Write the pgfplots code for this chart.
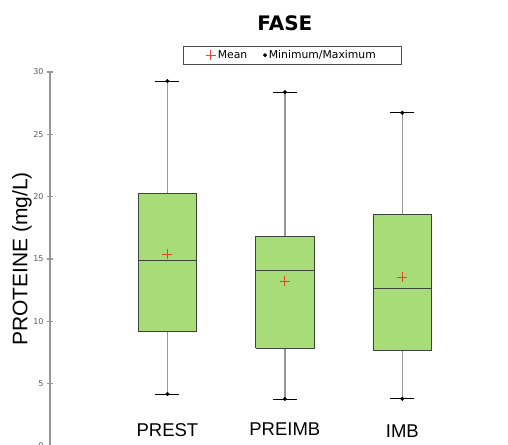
\documentclass[border=0pt]{standalone}
\usepackage{pgfplots}
\pgfplotsset{compat=1.18}
\usepackage{fontspec}
\setmainfont{DejaVu Sans}
\newfontfamily\arialfont{Liberation Sans}

\definecolor{boxgreen}{RGB}{168,220,120}
\definecolor{boxedge}{RGB}{60,70,55}
\definecolor{whiskergray}{RGB}{150,150,150}
\definecolor{axisgray}{RGB}{150,150,150}
\definecolor{meanred}{RGB}{235,65,45}
\definecolor{ticktext}{RGB}{90,90,90}

% styles for the parts of each box plot
\pgfplotsset{
  boxstyle/.style={draw=boxedge, fill=boxgreen, line width=0.9pt, forget plot},
  whiskerstyle/.style={draw=whiskergray, line width=1.4pt, forget plot},
  medianstyle/.style={draw=boxedge, line width=1pt, forget plot},
}

\begin{document}
\begin{tikzpicture}
\useasboundingbox (0pt,0pt) rectangle (508pt,-444pt);
\begin{axis}[
  at={(50pt,-446pt)}, anchor=south west,
  scale only axis, width=458pt, height=374pt,
  xmin=0, xmax=3.9, ymin=0, ymax=30,
  axis x line=none, axis y line*=left,
  clip=false,
  ytick={0,5,...,30},
  y axis line style={draw=axisgray, line width=1.6pt},
  major tick length=6pt, tick align=center,
  y tick style={draw=axisgray, line width=1.2pt},
  /pgf/number format/assume math mode=true,
  y tick label style={font=\fontsize{8}{8}\selectfont, text=ticktext},
  legend columns=2,
  legend style={at={(0.528,1.045)}, anchor=center, draw=black!70,
    font=\fontsize{10.8}{12}\selectfont, inner xsep=23pt, inner ysep=2pt,
    /tikz/every even column/.append style={column sep=14pt}},
]
% PREST: 4.17 / 9.22 / 14.92 / 20.29 / 29.27
\addplot[whiskerstyle] coordinates {(1,4.17) (1,9.22)};
\addplot[whiskerstyle] coordinates {(1,20.29) (1,29.27)};
\addplot[boxstyle] coordinates {(0.75,9.22) (1.25,9.22) (1.25,20.29) (0.75,20.29) (0.75,9.22)};
\addplot[medianstyle] coordinates {(0.75,14.92) (1.25,14.92)};
% PREIMB: 3.77 / 7.83 / 14.06 / 16.8 / 28.39
\addplot[whiskerstyle] coordinates {(2,3.77) (2,7.83)};
\addplot[whiskerstyle] coordinates {(2,16.8) (2,28.39)};
\addplot[boxstyle] coordinates {(1.75,7.83) (2.25,7.83) (2.25,16.8) (1.75,16.8) (1.75,7.83)};
\addplot[medianstyle] coordinates {(1.75,14.06) (2.25,14.06)};
% IMB: 3.79 / 7.67 / 12.65 / 18.6 / 26.73
\addplot[whiskerstyle] coordinates {(3,3.79) (3,7.67)};
\addplot[whiskerstyle] coordinates {(3,18.6) (3,26.73)};
\addplot[boxstyle] coordinates {(2.75,7.67) (3.25,7.67) (3.25,18.6) (2.75,18.6) (2.75,7.67)};
\addplot[medianstyle] coordinates {(2.75,12.65) (3.25,12.65)};
% whisker caps
\addplot[only marks, mark=-, mark size=12, draw=black, mark options={line width=0.8pt}, forget plot]
  coordinates {(1,4.17) (1,29.27) (2,3.77) (2,28.39) (3,3.79) (3,26.73)};
% means
\addplot[only marks, mark=+, mark size=5, draw=meanred, mark options={line width=1pt}]
  coordinates {(1,15.4) (2,13.23) (3,13.55)};
\addlegendentry{Mean}
% minimum / maximum
\addplot[only marks, mark=*, mark size=1.8, draw=black, fill=black]
  coordinates {(1,4.17) (1,29.27) (2,3.77) (2,28.39) (3,3.79) (3,26.73)};
\addlegendentry{Minimum/Maximum}
% category names
\node[font=\arialfont\fontsize{18.5}{20}\selectfont] at (axis cs:1,1.3) {PREST};
\node[font=\arialfont\fontsize{18.5}{20}\selectfont] at (axis cs:2,1.35) {PREIMB};
\node[font=\arialfont\fontsize{18.5}{20}\selectfont] at (axis cs:3,1.2) {IMB};
% title and axis label
\node[font=\bfseries\fontsize{20}{22}\selectfont] at (axis cs:2,33.9) {FASE};
\node[rotate=90, font=\arialfont\fontsize{21}{22}\selectfont] at (rel axis cs:-0.061,0.5) {PROTEINE (mg/L)};
\end{axis}
\end{tikzpicture}
\end{document}
